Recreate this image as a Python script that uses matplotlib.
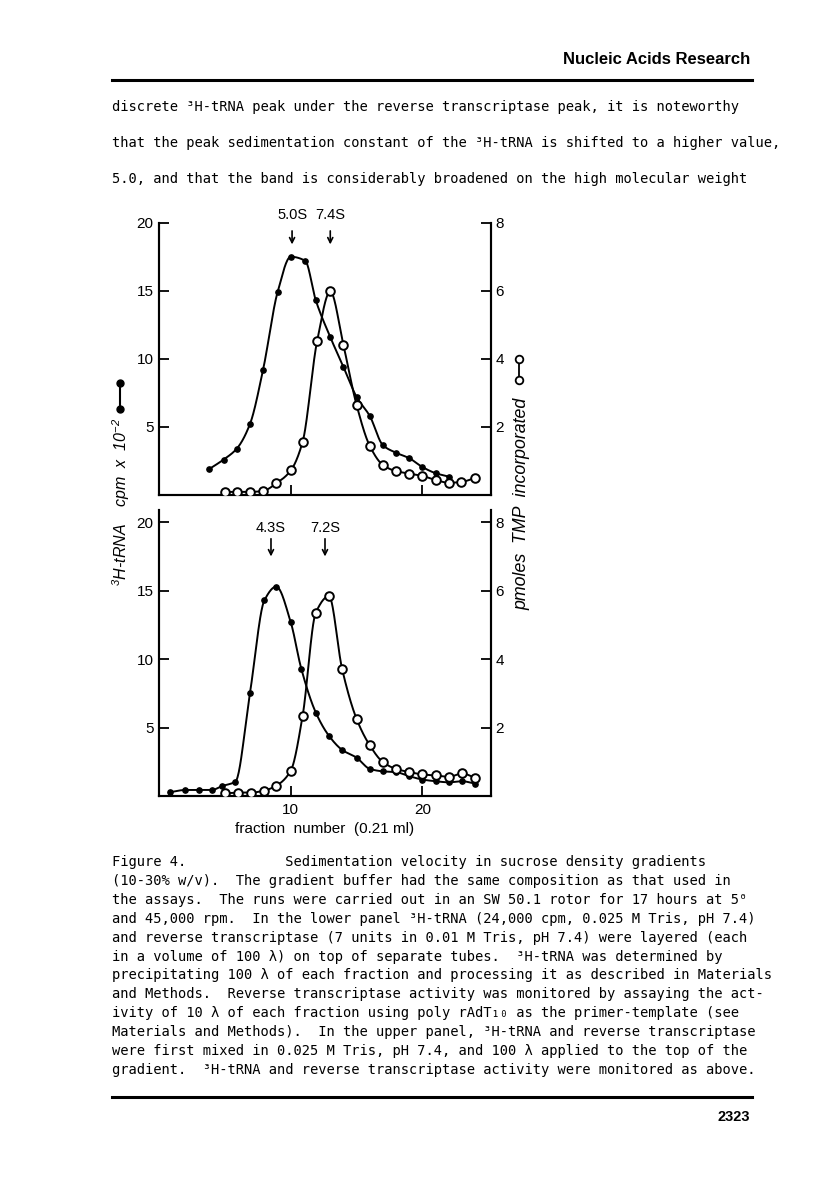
import numpy as np
import matplotlib
matplotlib.use("Agg")
import matplotlib.pyplot as plt
from matplotlib.lines import Line2D

# ---- data ----
# upper panel (3H-tRNA + reverse transcriptase mixed)
top_trna_x = [3.8, 4.9, 5.9, 6.9, 7.9, 9.0, 10.0, 11.1, 11.9, 13.0, 14.0, 15.0, 16.0, 17.0, 18.0, 19.0, 20.0, 21.0, 22.0]
top_trna = [1.9, 2.6, 3.4, 5.2, 9.2, 14.9, 17.5, 17.2, 14.3, 11.6, 9.4, 7.2, 5.8, 3.65, 3.1, 2.7, 2.05, 1.6, 1.35]
top_rt_x = [5.0, 5.9, 6.9, 7.9, 8.9, 10.0, 10.9, 12.0, 13.0, 14.0, 15.0, 16.0, 17.0, 18.0, 19.0, 20.0, 21.0, 22.0, 22.9, 24.0]
top_rt = [0.09, 0.09, 0.09, 0.12, 0.34, 0.72, 1.56, 4.52, 5.98, 4.4, 2.64, 1.44, 0.88, 0.70, 0.63, 0.56, 0.44, 0.36, 0.38, 0.50]

# lower panel (separate tubes)
bot_trna_x = [0.8, 2.0, 3.0, 4.0, 4.8, 5.8, 6.9, 8.0, 8.9, 10.0, 10.8, 11.9, 12.9, 13.9, 15.0, 16.0, 17.0, 18.0, 19.0, 20.0, 21.0, 22.0, 23.0, 24.0]
bot_trna = [0.27, 0.44, 0.44, 0.44, 0.73, 1.05, 7.5, 14.3, 15.3, 12.7, 9.3, 6.1, 4.4, 3.37, 2.8, 1.98, 1.8, 1.74, 1.45, 1.2, 1.08, 1.0, 1.08, 0.9]
bot_rt_x = [5.0, 6.0, 7.0, 8.0, 8.9, 10.0, 10.9, 11.9, 12.9, 13.9, 15.0, 16.0, 17.0, 18.0, 19.0, 20.0, 21.0, 22.0, 23.0, 24.0]
bot_rt = [0.08, 0.1, 0.1, 0.16, 0.3, 0.74, 2.34, 5.36, 5.84, 3.71, 2.25, 1.48, 0.99, 0.79, 0.7, 0.63, 0.6, 0.56, 0.66, 0.53]

# sedimentation markers
top_marks = [("5.0S", 10.1), ("7.4S", 13.0)]
bot_marks = [("4.3S", 8.5), ("7.2S", 12.6)]

left_ticks = [5, 10, 15, 20]
right_ticks = [2, 4, 6, 8]
x_ticks = [10, 20]

header = "Nucleic Acids Research"
page_no = "2323"
body_lines = [
    "discrete \u00b3H-tRNA peak under the reverse transcriptase peak, it is noteworthy",
    "that the peak sedimentation constant of the \u00b3H-tRNA is shifted to a higher value,",
    "5.0, and that the band is considerably broadened on the high molecular weight",
]
caption_lines = [
    "Figure 4.            Sedimentation velocity in sucrose density gradients",
    "(10-30% w/v).  The gradient buffer had the same composition as that used in",
    "the assays.  The runs were carried out in an SW 50.1 rotor for 17 hours at 5\u2070",
    "and 45,000 rpm.  In the lower panel \u00b3H-tRNA (24,000 cpm, 0.025 M Tris, pH 7.4)",
    "and reverse transcriptase (7 units in 0.01 M Tris, pH 7.4) were layered (each",
    "in a volume of 100 \u03bb) on top of separate tubes.  \u00b3H-tRNA was determined by",
    "precipitating 100 \u03bb of each fraction and processing it as described in Materials",
    "and Methods.  Reverse transcriptase activity was monitored by assaying the act-",
    "ivity of 10 \u03bb of each fraction using poly rAdT\u2081\u2080 as the primer-template (see",
    "Materials and Methods).  In the upper panel, \u00b3H-tRNA and reverse transcriptase",
    "were first mixed in 0.025 M Tris, pH 7.4, and 100 \u03bb applied to the top of the",
    "gradient.  \u00b3H-tRNA and reverse transcriptase activity were monitored as above.",
]

W, H = 816, 1183
SANS = "Liberation Sans"
MONO = ["DejaVu Sans Mono", "DejaVu Sans"]

plt.rcParams["mathtext.fontset"] = "custom"
plt.rcParams["mathtext.it"] = "Liberation Sans:italic"
plt.rcParams["mathtext.rm"] = "Liberation Sans:italic"
plt.rcParams["mathtext.default"] = "it"


def px(x, y):
    # page pixels -> figure fraction
    return x / W, 1 - y / H


def box(l, t, r, b):
    return [l / W, 1 - b / H, (r - l) / W, (b - t) / H]


def smooth(x, y, n=500):
    # monotone cubic (pchip) through the points, just for drawing the curve
    x = np.asarray(x, float)
    y = np.asarray(y, float)
    h = np.diff(x)
    d = np.diff(y) / h
    m = np.zeros_like(y)
    for k in range(1, len(x) - 1):
        if d[k - 1] * d[k] > 0:
            w1 = 2 * h[k] + h[k - 1]
            w2 = h[k] + 2 * h[k - 1]
            m[k] = (w1 + w2) / (w1 / d[k - 1] + w2 / d[k])
    m[0] = d[0]
    m[-1] = d[-1]
    xs = np.linspace(x[0], x[-1], n)
    i = np.clip(np.searchsorted(x, xs) - 1, 0, len(h) - 1)
    t = (xs - x[i]) / h[i]
    h00 = 2 * t**3 - 3 * t**2 + 1
    h10 = t**3 - 2 * t**2 + t
    h01 = -2 * t**3 + 3 * t**2
    h11 = t**3 - t**2
    ys = h00 * y[i] + h10 * h[i] * m[i] + h01 * y[i + 1] + h11 * h[i] * m[i + 1]
    return xs, ys


def panel(rect, ytop, trna_x, trna, rt_x, rt, marks, mark_y, xlabels):
    ax = fig.add_axes(rect)
    ax.set_xlim(0, 25.2)
    ax.set_ylim(0, ytop)
    ax2 = ax.twinx()
    ax2.set_ylim(0, ytop / 2.5)

    for a in (ax, ax2):
        a.spines["top"].set_visible(False)
        for s in ("left", "right", "bottom"):
            a.spines[s].set_linewidth(1.5)
        a.patch.set_visible(False)

    ax.set_xticks(x_ticks)
    ax.set_yticks(left_ticks)
    ax2.set_yticks(right_ticks)
    ax.tick_params(axis="both", direction="in", length=7, width=1.3, labelsize=11, pad=4)
    ax.tick_params(axis="x", pad=5)
    ax2.tick_params(axis="y", direction="in", length=7, width=1.3, labelsize=11, pad=3)
    for lab in ax.get_xticklabels() + ax.get_yticklabels() + ax2.get_yticklabels():
        lab.set_fontfamily(SANS)
    if not xlabels:
        ax.set_xticklabels([])

    xs, ys = smooth(trna_x, trna)
    ax.plot(xs, ys, color="black", lw=1.4, zorder=2)
    ax.plot(trna_x, trna, "o", color="black", ms=3.8, zorder=3)

    xs, ys = smooth(rt_x, rt)
    ax2.plot(xs, ys, color="black", lw=1.4, zorder=2)
    ax2.plot(rt_x, rt, "o", mfc="white", mec="black", mew=1.4, ms=6.2, zorder=3)

    ty, a0, a1 = mark_y
    for lab, xv in marks:
        ax.text(xv, ty, lab, ha="center", va="center", fontsize=10.5, family=SANS, clip_on=False)
        ax.annotate("", xy=(xv, a1), xytext=(xv, a0),
                    arrowprops=dict(arrowstyle="->", lw=1.2, color="black", mutation_scale=9),
                    annotation_clip=False)
    return ax, ax2


fig = plt.figure(figsize=(W / 100, H / 100), dpi=100)
fig.patch.set_facecolor("white")

ax_t, ax_t2 = panel(box(159, 222.7, 491, 495), 20.0, top_trna_x, top_trna, top_rt_x, top_rt,
                    top_marks, (20.55, 19.6, 18.2), False)
ax_b, ax_b2 = panel(box(159, 510, 491, 796), 20.9, bot_trna_x, bot_trna, bot_rt_x, bot_rt,
                    bot_marks, (19.6, 19.0, 17.3), True)
ax_b.set_xlabel("fraction  number  (0.21 ml)", fontsize=11, family=SANS, labelpad=4)

# axis titles with their little legend symbols
fig.text(*px(121, 502), r"$^3$H-tRNA    cpm  x  10$^{-2}$", rotation=90, ha="center", va="center",
         fontsize=11.5, family=SANS, style="italic")
fig.add_artist(Line2D([120 / W, 120 / W], [1 - 383 / H, 1 - 409 / H], transform=fig.transFigure,
                      color="black", lw=1.5, marker="o", ms=5, mfc="black"))
fig.text(*px(522, 504), "pmoles  TMP  incorporated", rotation=90, ha="center", va="center",
         fontsize=12.8, family=SANS, style="italic")
fig.add_artist(Line2D([519 / W, 519 / W], [1 - 359 / H, 1 - 380 / H], transform=fig.transFigure,
                      color="black", lw=1.3, marker="o", ms=5.5, mfc="white", mew=1.3))

# page furniture
fig.text(*px(750, 60), header, ha="right", va="center", fontsize=12, family=SANS, weight="bold")
fig.add_artist(Line2D([112 / W, 752 / W], [1 - 80 / H, 1 - 80 / H], transform=fig.transFigure,
                      color="black", lw=2.2))
for k, line in enumerate(body_lines):
    fig.text(*px(112, 107 + 36 * k), line, ha="left", va="center", fontsize=9.9, family=MONO)
for k, line in enumerate(caption_lines):
    fig.text(*px(112, 862 + 18.9 * k), line, ha="left", va="center", fontsize=9.9, family=MONO)
fig.add_artist(Line2D([112 / W, 752 / W], [1 - 1097 / H, 1 - 1097 / H], transform=fig.transFigure,
                      color="black", lw=2.2))
fig.text(*px(750, 1117), page_no, ha="right", va="center", fontsize=10.5, family=SANS, weight="bold")

fig.savefig("out.png", dpi=100, facecolor="white")
